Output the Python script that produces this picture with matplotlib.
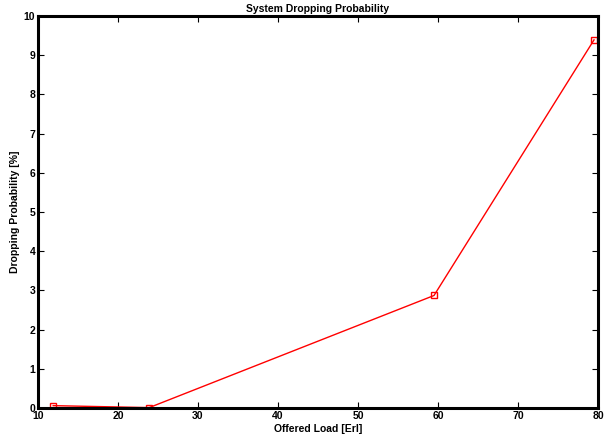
import matplotlib
matplotlib.use("Agg")
import matplotlib.pyplot as plt

offered_load = [11.9, 23.9, 59.5, 79.5]
dropping_prob = [0.06, 0.01, 2.87, 9.39]
x_ticks = [10, 20, 30, 40, 50, 60, 70, 80]
y_ticks = list(range(0, 11))

plt.rcParams['font.family'] = ['Liberation Sans', 'DejaVu Sans']
plt.rcParams['font.weight'] = 'bold'
plt.rcParams['font.size'] = 7

fig = plt.figure(figsize=(6.08, 4.34), dpi=100)
ax = fig.add_axes([38 / 608, 1 - 408 / 434, 560 / 608, 392 / 434])

ax.plot(offered_load, dropping_prob, color='red', lw=1, marker='s',
        markersize=4.5, markerfacecolor='none', markeredgecolor='red', markeredgewidth=1)

ax.set_xlim(10, 80)
ax.set_ylim(0, 10)
ax.set_xticks(x_ticks)
ax.set_yticks(y_ticks)
ax.tick_params(direction='in', length=4, width=0.8, top=True, right=True,
               labelsize=7.5, pad=2)
for s in ax.spines.values():
    s.set_linewidth(2.2)

ax.set_title('System Dropping Probability', fontsize=7.5, fontweight='bold', pad=3)
ax.set_xlabel('Offered Load [Erl]', fontsize=7.5, fontweight='bold', labelpad=2)
ax.set_ylabel('Dropping Probability [%]', fontsize=7.5, fontweight='bold', labelpad=3)

fig.savefig('out.png', dpi=100)
